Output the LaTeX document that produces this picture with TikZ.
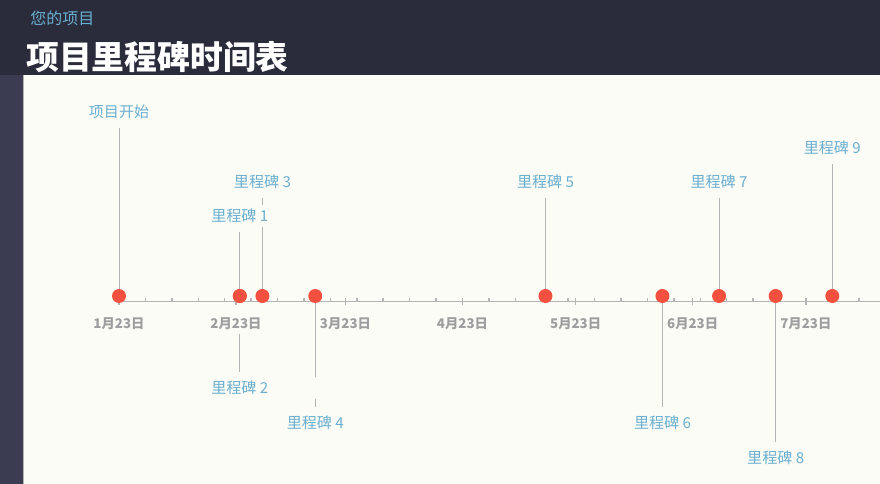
\documentclass[tikz,border=0pt]{standalone}
\usepackage{fontspec}
\newfontfamily\cjk{Noto Sans CJK SC}
\usetikzlibrary{backgrounds}
\definecolor{headbg}{HTML}{2A2B3B}
\definecolor{sidebg}{HTML}{3B3C52}
\definecolor{pagebg}{HTML}{FBFCF6}
\definecolor{msblue}{HTML}{6AAFD0}
\definecolor{dotred}{HTML}{F4503F}
\definecolor{axisgray}{HTML}{B4B4B4}
\definecolor{dategray}{HTML}{9E9E9E}
\begin{document}
\begin{tikzpicture}[x=0.75pt,y=-0.75pt]
       \tikzstyle{msnode}=[fill=pagebg, text=msblue, font=\cjk\fontsize{11.3}{13}\selectfont, minimum width=115.5pt, minimum height=16.5pt, inner sep=0pt]
       \tikzstyle{datenode}=[fill=pagebg, text=dategray, font=\cjk\bfseries\fontsize{10}{12}\selectfont, anchor=north, inner xsep=1.5pt, inner ysep=0pt, text height=18.6pt, text depth=4.65pt]
       \tikzstyle{dot}=[circle, fill=dotred, minimum size=10.5pt, inner sep=0pt]
       \tikzstyle{stem}=[draw=axisgray, line width=0.75pt, shorten >=3.75pt]
       \tikzstyle{axisline}=[draw=axisgray, line width=1.1pt]
       \useasboundingbox (0,0) rectangle (880,484);
       \begin{pgfonlayer}{background}
        \fill[pagebg] (0,0) rectangle (880,484);
        \fill[headbg] (0,0) rectangle (880,75);
        \fill[sidebg] (0,75) rectangle (23,484);
        \draw[gray!60, line width=0.75pt] (23.5,75) -- (23.5,484);
       \end{pgfonlayer}
       \node[anchor=west, inner sep=0pt, text=msblue, font=\cjk\fontsize{12}{14}\selectfont] (subtitle) at (30,18) {您的项目};
       \node[anchor=west, inner sep=0pt, text=white, font=\cjk\bfseries\fontsize{24.6}{28}\selectfont] (title) at (26,57) {项目里程碑时间表};
       \foreach \d/\txt [count=\i] in {0/1月23日, 31/2月23日, 60/3月23日, 91/4月23日, 121/5月23日, 152/6月23日, 182/7月23日}
        \node[datenode] (date\i) at ({119+3.774*\d},303) {\txt};
       \draw[axisline] (118,301.5) -- (880,301.5);
       \foreach \k in {1,...,28}
        \draw[axisline] ({119+26.42*\k},298) -- ++(0,3.5);
       \foreach \d in {0,31,60,91,121,152,182}
        \draw[axisline] ({119+3.774*\d},298) -- ++(0,7);
       \foreach \d/\ly/\txt [count=\i] in {0/112/项目开始, 32/216/里程碑 1, 32/388/里程碑 2, 38/182/里程碑 3, 52/423/里程碑 4, 113/182/里程碑 5, 144/423/里程碑 6, 159/182/里程碑 7, 174/458/里程碑 8, 189/148/里程碑 9} {
        \node[msnode] (ms\i) at ({119+3.774*\d},\ly) {\txt};
        \node[dot] (dot\i) at ({119+3.774*\d},296) {};
        \begin{pgfonlayer}{background}
         \draw[stem] (dot\i.center) -- (ms\i);
        \end{pgfonlayer}
       }
      \end{tikzpicture}
\end{document}
